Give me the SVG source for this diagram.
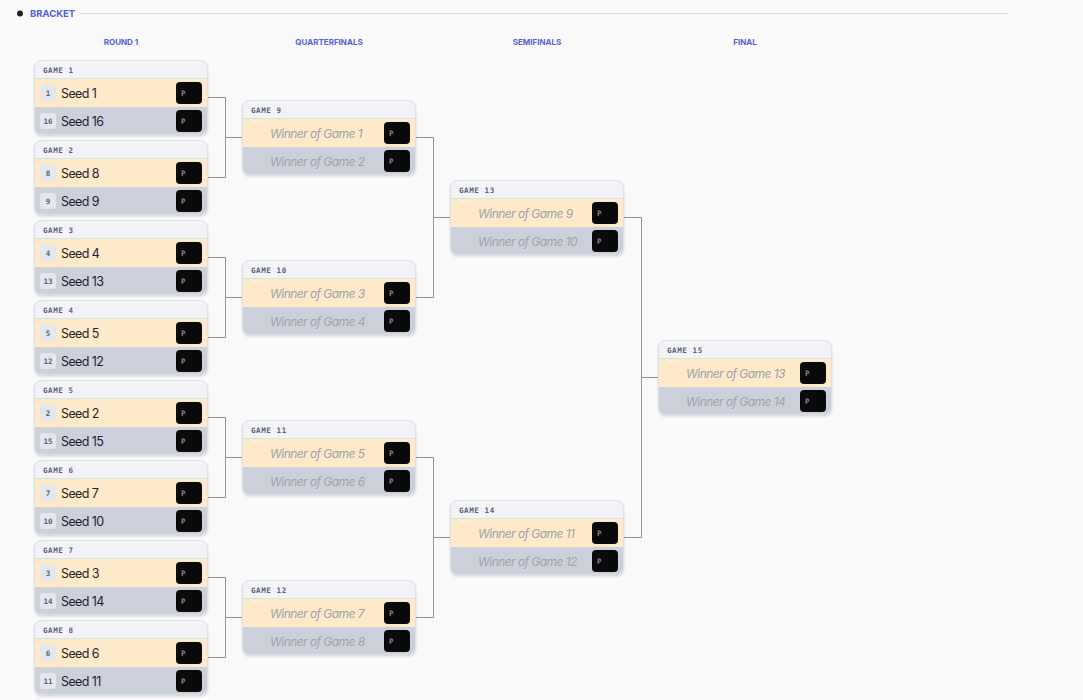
<svg xmlns="http://www.w3.org/2000/svg" xmlns:xlink="http://www.w3.org/1999/xlink" width="1083" height="700" viewBox="0 0 1083 700">
<defs>
<style>
.ttl{font-family:Inter,"Liberation Sans",sans-serif;font-weight:700;font-size:9.5px;fill:#5262d6}
.rnd{font-family:Inter,"Liberation Sans",sans-serif;font-weight:700;font-size:8px;fill:#5262d6;text-anchor:middle}
.gh{font-family:"DejaVu Sans Mono","Liberation Mono",monospace;font-weight:700;font-size:7.5px;fill:#5b6178;letter-spacing:0.6px}
.bd{font-family:"DejaVu Sans Mono","Liberation Mono",monospace;font-weight:700;font-size:7.5px;fill:#5b6178;text-anchor:middle}
.sd{font-family:Inter,"Liberation Sans",sans-serif;font-size:12.5px;fill:#1c1f2e;letter-spacing:-0.6px}
.wn{font-family:Inter,"Liberation Sans",sans-serif;font-style:italic;font-size:12px;fill:#9fa3ad;letter-spacing:-0.55px}
.pt{font-family:"DejaVu Sans Mono","Liberation Mono",monospace;font-weight:700;font-size:7.5px;fill:#8c7e90}
.cn{fill:none;stroke:#8c90a0;stroke-width:1}
</style>
<filter id="sh" x="-10%" y="-10%" width="120%" height="130%">
<feDropShadow dx="0" dy="1.5" stdDeviation="1.3" flood-color="#000" flood-opacity="0.15"/>
</filter>
<clipPath id="cc"><rect x="0" y="0" width="174" height="75" rx="8"/></clipPath>
<g id="card">
<rect x="0" y="0" width="174" height="75" rx="8" fill="#f2f3f7" filter="url(#sh)"/>
<g clip-path="url(#cc)">
<rect x="0" y="0" width="174" height="19" fill="#f2f3f7"/>
<rect x="0" y="19" width="174" height="28" fill="#fee9c9"/>
<rect x="0" y="47" width="174" height="28" fill="#cbd0db"/>
<line x1="0" y1="18.5" x2="174" y2="18.5" stroke="#dde0e6"/>
</g>
<rect x="0.5" y="0.5" width="173" height="74" rx="7.5" fill="none" stroke="#dde0e6"/>
<rect x="142" y="22" width="26" height="22" rx="4" fill="#0a0a0a"/>
<rect x="142" y="50" width="26" height="22" rx="4" fill="#0a0a0a"/>
<text class="pt" x="147" y="36">P</text>
<text class="pt" x="147" y="64">P</text>
</g>
<g id="badges">
<rect x="6" y="25" width="16" height="16" rx="3" fill="#e3e7ef"/>
<rect x="6" y="53" width="16" height="16" rx="3" fill="#e3e7ef"/>
</g>
</defs>
<rect width="1083" height="700" fill="#fafafa"/>
<g id="header">
<circle cx="20" cy="13.5" r="3" fill="#1c1f2e"/>
<text class="ttl" x="30" y="17">BRACKET</text>
<line x1="80" y1="13.5" x2="1008" y2="13.5" stroke="#d8dbe2"/>
<text class="rnd" x="121" y="45">ROUND 1</text>
<text class="rnd" x="329" y="45">QUARTERFINALS</text>
<text class="rnd" x="537" y="45">SEMIFINALS</text>
<text class="rnd" x="745" y="45">FINAL</text>
</g>
<g id="connectors">
<path class="cn" d="M208 97.5H225.5V177.5H208M225.5 137.5H242"/>
<path class="cn" d="M208 257.5H225.5V337.5H208M225.5 297.5H242"/>
<path class="cn" d="M208 417.5H225.5V497.5H208M225.5 457.5H242"/>
<path class="cn" d="M208 577.5H225.5V657.5H208M225.5 617.5H242"/>
<path class="cn" d="M416 137.5H433.5V297.5H416M433.5 217.5H450"/>
<path class="cn" d="M416 457.5H433.5V617.5H416M433.5 537.5H450"/>
<path class="cn" d="M624 217.5H641.5V537.5H624M641.5 377.5H658"/>
</g>
<g id="game1" transform="translate(34,60)"><use xlink:href="#card"/><use xlink:href="#badges"/><text class="gh" x="9" y="12.5">GAME 1</text><text class="bd" x="14" y="36">1</text><text class="bd" x="14" y="64">16</text><text class="sd" x="27" y="38">Seed 1</text><text class="sd" x="27" y="66">Seed 16</text></g>
<g id="game2" transform="translate(34,140)"><use xlink:href="#card"/><use xlink:href="#badges"/><text class="gh" x="9" y="12.5">GAME 2</text><text class="bd" x="14" y="36">8</text><text class="bd" x="14" y="64">9</text><text class="sd" x="27" y="38">Seed 8</text><text class="sd" x="27" y="66">Seed 9</text></g>
<g id="game3" transform="translate(34,220)"><use xlink:href="#card"/><use xlink:href="#badges"/><text class="gh" x="9" y="12.5">GAME 3</text><text class="bd" x="14" y="36">4</text><text class="bd" x="14" y="64">13</text><text class="sd" x="27" y="38">Seed 4</text><text class="sd" x="27" y="66">Seed 13</text></g>
<g id="game4" transform="translate(34,300)"><use xlink:href="#card"/><use xlink:href="#badges"/><text class="gh" x="9" y="12.5">GAME 4</text><text class="bd" x="14" y="36">5</text><text class="bd" x="14" y="64">12</text><text class="sd" x="27" y="38">Seed 5</text><text class="sd" x="27" y="66">Seed 12</text></g>
<g id="game5" transform="translate(34,380)"><use xlink:href="#card"/><use xlink:href="#badges"/><text class="gh" x="9" y="12.5">GAME 5</text><text class="bd" x="14" y="36">2</text><text class="bd" x="14" y="64">15</text><text class="sd" x="27" y="38">Seed 2</text><text class="sd" x="27" y="66">Seed 15</text></g>
<g id="game6" transform="translate(34,460)"><use xlink:href="#card"/><use xlink:href="#badges"/><text class="gh" x="9" y="12.5">GAME 6</text><text class="bd" x="14" y="36">7</text><text class="bd" x="14" y="64">10</text><text class="sd" x="27" y="38">Seed 7</text><text class="sd" x="27" y="66">Seed 10</text></g>
<g id="game7" transform="translate(34,540)"><use xlink:href="#card"/><use xlink:href="#badges"/><text class="gh" x="9" y="12.5">GAME 7</text><text class="bd" x="14" y="36">3</text><text class="bd" x="14" y="64">14</text><text class="sd" x="27" y="38">Seed 3</text><text class="sd" x="27" y="66">Seed 14</text></g>
<g id="game8" transform="translate(34,620)"><use xlink:href="#card"/><use xlink:href="#badges"/><text class="gh" x="9" y="12.5">GAME 8</text><text class="bd" x="14" y="36">6</text><text class="bd" x="14" y="64">11</text><text class="sd" x="27" y="38">Seed 6</text><text class="sd" x="27" y="66">Seed 11</text></g>
<g id="game9" transform="translate(242,100)"><use xlink:href="#card"/><text class="gh" x="9" y="12.5">GAME 9</text><text class="wn" x="28" y="37.5">Winner of Game 1</text><text class="wn" x="28" y="65.5">Winner of Game 2</text></g>
<g id="game10" transform="translate(242,260)"><use xlink:href="#card"/><text class="gh" x="9" y="12.5">GAME 10</text><text class="wn" x="28" y="37.5">Winner of Game 3</text><text class="wn" x="28" y="65.5">Winner of Game 4</text></g>
<g id="game11" transform="translate(242,420)"><use xlink:href="#card"/><text class="gh" x="9" y="12.5">GAME 11</text><text class="wn" x="28" y="37.5">Winner of Game 5</text><text class="wn" x="28" y="65.5">Winner of Game 6</text></g>
<g id="game12" transform="translate(242,580)"><use xlink:href="#card"/><text class="gh" x="9" y="12.5">GAME 12</text><text class="wn" x="28" y="37.5">Winner of Game 7</text><text class="wn" x="28" y="65.5">Winner of Game 8</text></g>
<g id="game13" transform="translate(450,180)"><use xlink:href="#card"/><text class="gh" x="9" y="12.5">GAME 13</text><text class="wn" x="28" y="37.5">Winner of Game 9</text><text class="wn" x="28" y="65.5">Winner of Game 10</text></g>
<g id="game14" transform="translate(450,500)"><use xlink:href="#card"/><text class="gh" x="9" y="12.5">GAME 14</text><text class="wn" x="28" y="37.5">Winner of Game 11</text><text class="wn" x="28" y="65.5">Winner of Game 12</text></g>
<g id="game15" transform="translate(658,340)"><use xlink:href="#card"/><text class="gh" x="9" y="12.5">GAME 15</text><text class="wn" x="28" y="37.5">Winner of Game 13</text><text class="wn" x="28" y="65.5">Winner of Game 14</text></g>
</svg>
